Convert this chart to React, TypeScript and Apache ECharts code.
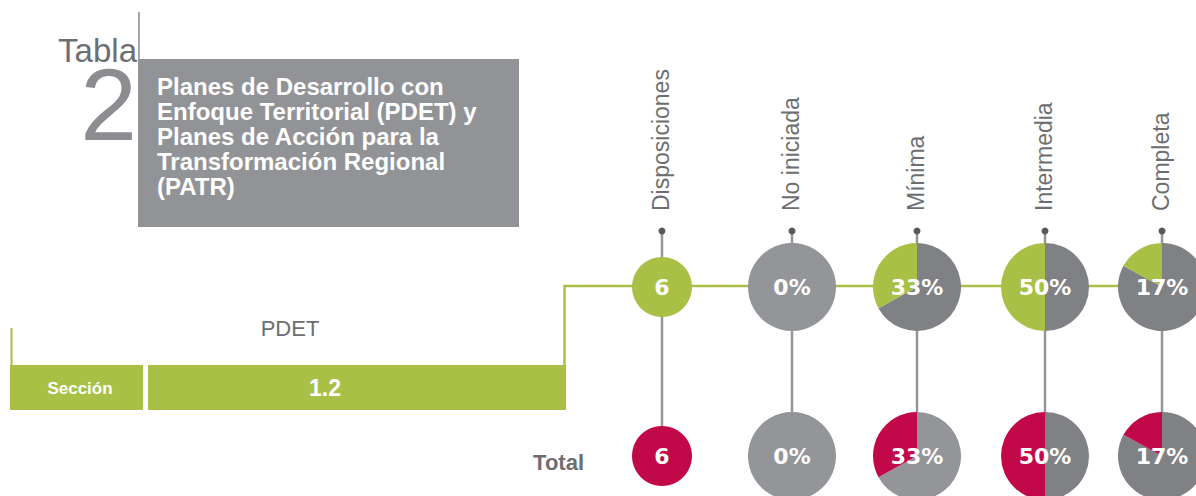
import React, { useEffect, useRef } from "react";
import * as echarts from "echarts";

const categories = ["Disposiciones", "No iniciada", "Mínima", "Intermedia", "Completa"];
const pdetValues = [6, 0, 33, 50, 17];
const totalValues = [6, 0, 33, 50, 17];
const titleLines = [
  "Planes de Desarrollo con",
  "Enfoque Territorial (PDET) y",
  "Planes de Acción para la",
  "Transformación Regional",
  "(PATR)",
];
const tableWord = "Tabla";
const tableNumber = "2";
const sectionLabel = "Sección";
const sectionValue = "1.2";
const groupLabel = "PDET";
const totalLabel = "Total";

const GREEN = "#a9c047";
const RED = "#c1094a";
const GRAY_L = "#939598";
const GRAY_D = "#808184";
const TEXT_GRAY = "#6d6e71";

const colX = [662, 792, 917, 1045, 1162];
const topY = 287;
const botY = 456;
const FONT = '"Liberation Sans", Arial, sans-serif';

function pieSeries(idx: number, value: number, y: number, color: string, restColor: string) {
  const isCount = idx === 0;
  const r = isCount ? 30 : 44;
  const label = isCount ? String(value) : value + "%";
  const labelStyle = {
    show: true,
    position: "center",
    formatter: label,
    color: "#ffffff",
    fontFamily: '"DejaVu Sans", sans-serif',
    fontWeight: "bold",
    fontSize: 22,
  };
  const data = isCount
    ? [{ value: 1, name: categories[idx], itemStyle: { color }, label: labelStyle }]
    : [
        { value: 100 - value, name: categories[idx] + " resto", itemStyle: { color: value === 0 ? GRAY_L : restColor }, label: labelStyle },
        { value: value, name: categories[idx], itemStyle: { color }, label: { show: false } },
      ];
  return {
    type: "pie",
    center: [colX[idx], y],
    radius: r,
    startAngle: 90,
    clockwise: true,
    silent: true,
    avoidLabelOverlap: false,
    label: { show: false },
    labelLine: { show: false },
    emphasis: { disabled: true },
    itemStyle: { borderWidth: 0 },
    z: 5,
    data,
  };
}

export default function App() {
  const ref = useRef<HTMLDivElement>(null);
  useEffect(() => {
    if (!ref.current) return;
    const chart = echarts.init(ref.current, undefined, { renderer: "svg" });
    const series: any[] = [];
    pdetValues.forEach((v, i) => series.push(pieSeries(i, v, topY, GREEN, GRAY_D)));
    totalValues.forEach((v, i) =>
      series.push(pieSeries(i, v, botY, RED, i === 2 ? GRAY_L : GRAY_D))
    );

    const graphics: any[] = [];
    // Tabla heading
    graphics.push({
      type: "line",
      shape: { x1: 139, y1: 12, x2: 139, y2: 60 },
      style: { stroke: "#8a8b8e", lineWidth: 1.5 },
    });
    graphics.push({
      type: "text",
      x: 137,
      y: 36,
      style: {
        text: "{a|" + tableWord + "}\n{b|" + tableNumber + "}",
        align: "right",
        verticalAlign: "top",
        rich: {
          a: { fontFamily: FONT, fontSize: 33, fill: TEXT_GRAY, lineHeight: 28, align: "right" },
          b: { fontFamily: FONT, fontSize: 102, fill: "#8c8d90", lineHeight: 82, align: "right" },
        },
      },
    });
    graphics.push({
      type: "rect",
      shape: { x: 138, y: 59, width: 381, height: 168 },
      style: { fill: "#929396" },
    });
    graphics.push({
      type: "text",
      x: 157,
      y: 74,
      style: {
        text: titleLines.join("\n"),
        fill: "#ffffff",
        font: "bold 24px " + FONT,
        lineHeight: 25,
        verticalAlign: "top",
        align: "left",
      },
    });

    // PDET section
    graphics.push({
      type: "line",
      shape: { x1: 11.5, y1: 328, x2: 11.5, y2: 366 },
      style: { stroke: GREEN, lineWidth: 2 },
    });
    graphics.push({
      type: "text",
      x: 290,
      y: 328,
      style: { text: groupLabel, fill: TEXT_GRAY, font: "22px " + FONT, align: "center", verticalAlign: "middle" },
    });
    graphics.push({
      type: "rect",
      shape: { x: 10, y: 365, width: 133, height: 45 },
      style: { fill: GREEN },
    });
    graphics.push({
      type: "rect",
      shape: { x: 148, y: 365, width: 418, height: 45 },
      style: { fill: GREEN },
    });
    graphics.push({
      type: "text",
      x: 80,
      y: 388,
      style: { text: sectionLabel, fill: "#ffffff", font: "bold 17px " + FONT, align: "center", verticalAlign: "middle" },
    });
    graphics.push({
      type: "text",
      x: 325,
      y: 388,
      style: { text: sectionValue, fill: "#ffffff", font: "bold 23px " + FONT, align: "center", verticalAlign: "middle" },
    });
    // green connector
    graphics.push({
      type: "polyline",
      shape: { points: [[564.5, 366], [564.5, 286], [1200, 286]] },
      style: { stroke: GREEN, lineWidth: 2.5, fill: "none" },
      z: 1,
    });
    graphics.push({
      type: "text",
      x: 584,
      y: 462,
      style: { text: totalLabel, fill: TEXT_GRAY, font: "bold 22px " + FONT, align: "right", verticalAlign: "middle" },
    });

    // column stems, dots, labels
    categories.forEach((c, i) => {
      graphics.push({
        type: "line",
        shape: { x1: colX[i], y1: 231, x2: colX[i], y2: botY - 20 },
        style: { stroke: GRAY_L, lineWidth: 2.5 },
        z: 1,
      });
      graphics.push({
        type: "circle",
        shape: { cx: colX[i], cy: 231, r: 3.5 },
        style: { fill: "#58595b" },
        z: 2,
      });
      graphics.push({
        type: "text",
        x: colX[i] - 1,
        y: 211,
        rotation: Math.PI / 2,
        style: { text: c, fill: TEXT_GRAY, font: "23px " + FONT, align: "left", verticalAlign: "middle" },
      });
    });

    chart.setOption({
      animation: false,
      backgroundColor: "#ffffff",
      graphic: { elements: graphics },
      series,
    });
    return () => chart.dispose();
  }, []);
  return (
    <div
      ref={ref}
      style={{ position: "fixed", left: 0, top: 0, width: 1196, height: 496 }}
    />
  );
}
